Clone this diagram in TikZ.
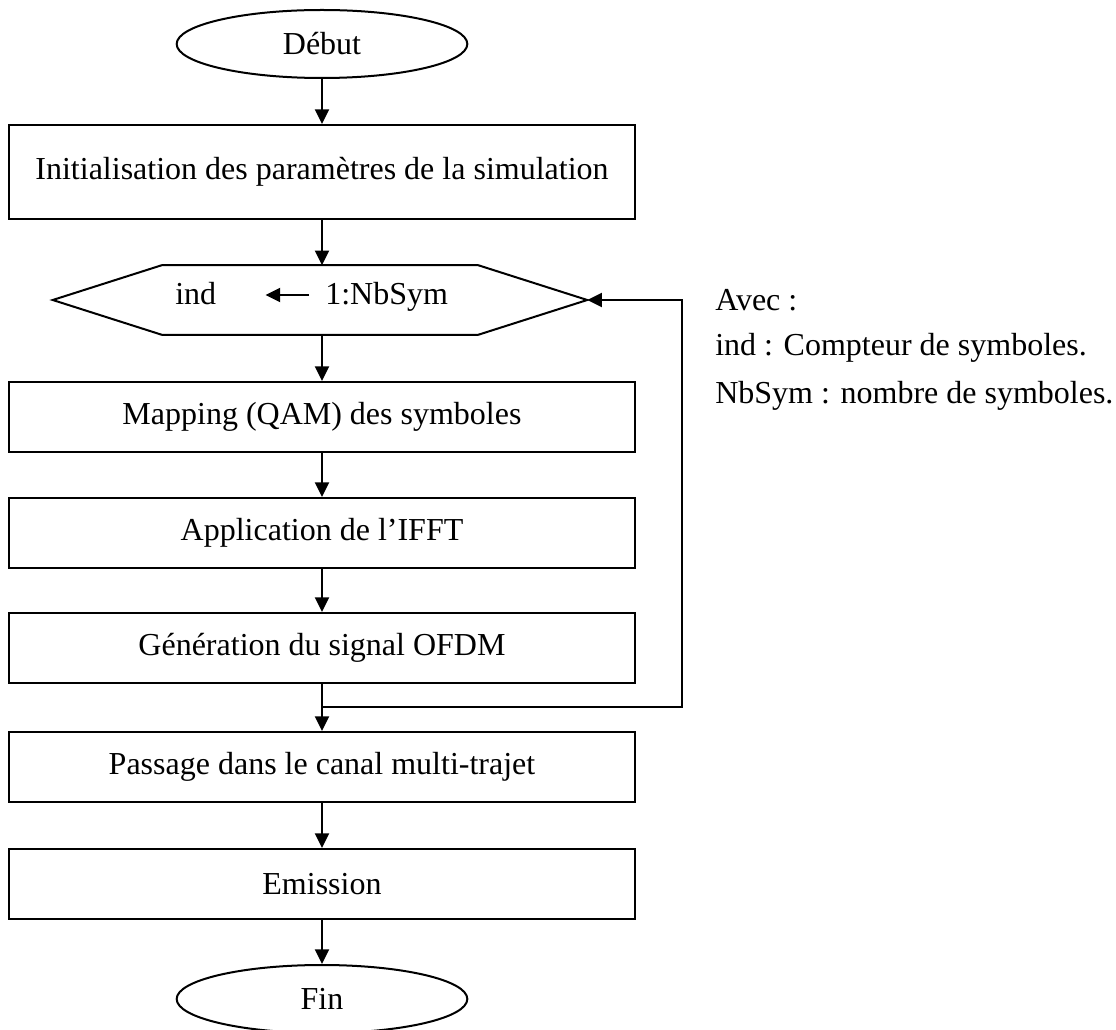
\documentclass[tikz,border=0pt]{standalone}
\usepackage{fontspec}
\setmainfont{Liberation Serif}
\usetikzlibrary{arrows.meta,shapes.geometric,calc}

\begin{document}
\begin{tikzpicture}[x=0.75pt,y=-0.75pt,
  every node/.style={font=\fontsize{24}{28}\selectfont},
  line/.style={line width=1.5pt},
  arr/.style={line width=1.5pt,-{Triangle[length=11pt,width=10.5pt]}},
  stepbox/.style={draw,line width=1.5pt,minimum width=469pt,minimum height=52.5pt},
  term/.style={draw,ellipse,line width=1.5pt,minimum width=218pt,minimum height=51pt},
  plain/.style={inner sep=0pt}]
\useasboundingbox (0,0) rectangle (1116,1030);

% start and end terminals
\node[term] (debut) at (322,44) {Début};
\node[term] (fin) at (322,999) {Fin};

% processing steps
\node[stepbox,minimum height=70.5pt] (init) at (322,172) {Initialisation des paramètres de la simulation};
\node[stepbox] (map) at (322,417) {Mapping (QAM) des symboles};
\node[stepbox] (ifft) at (322,533) {Application de l’IFFT};
\node[stepbox] (gen) at (322,648) {Génération du signal OFDM};
\node[stepbox] (canal) at (322,767) {Passage dans le canal multi-trajet};
\node[stepbox] (emis) at (322,884) {Emission};

% loop header (hexagon)
\node[minimum width=400.5pt,minimum height=51.75pt,inner sep=0pt] (hex) at (320,300) {};
\draw[line] (hex.west) -- ($(hex.north west)+(109,0)$) -- ($(hex.north east)-(109,0)$)
  -- (hex.east) -- ($(hex.south east)-(109,0)$) -- ($(hex.south west)+(109,0)$) -- cycle;
\node[plain,anchor=base west] (ind) at (175,305) {ind};
\node[plain,anchor=base west] (nbsym) at (325,305) {1:NbSym};
\draw[arr] ([xshift=-12pt,yshift=7.5pt]nbsym.base west) -- ([xshift=36.75pt,yshift=7.5pt]ind.base east);

% main flow
\draw[arr] (debut) -- (init);
\draw[arr] (init.south) -- (init.south |- hex.north);
\draw[arr] (map.north |- hex.south) -- (map.north);
\draw[arr] (map) -- (ifft);
\draw[arr] (ifft) -- (gen);
\draw[arr] (gen) -- (canal);
\draw[arr] (canal) -- (emis);
\draw[arr] (emis) -- (fin);

% feedback to the loop header
\coordinate (join) at (322,707);
\coordinate (corner) at (682,707);
\draw[arr] (join) -- (corner) |- (hex.east);

% legend
\node[plain,anchor=west] (avec) at (715,300) {Avec :};
\node[plain,anchor=west] (lind) at (715,348) {ind : Compteur de symboles.};
\node[plain,anchor=west] (lnb) at (715,396) {NbSym : nombre de symboles.};
\end{tikzpicture}
\end{document}
